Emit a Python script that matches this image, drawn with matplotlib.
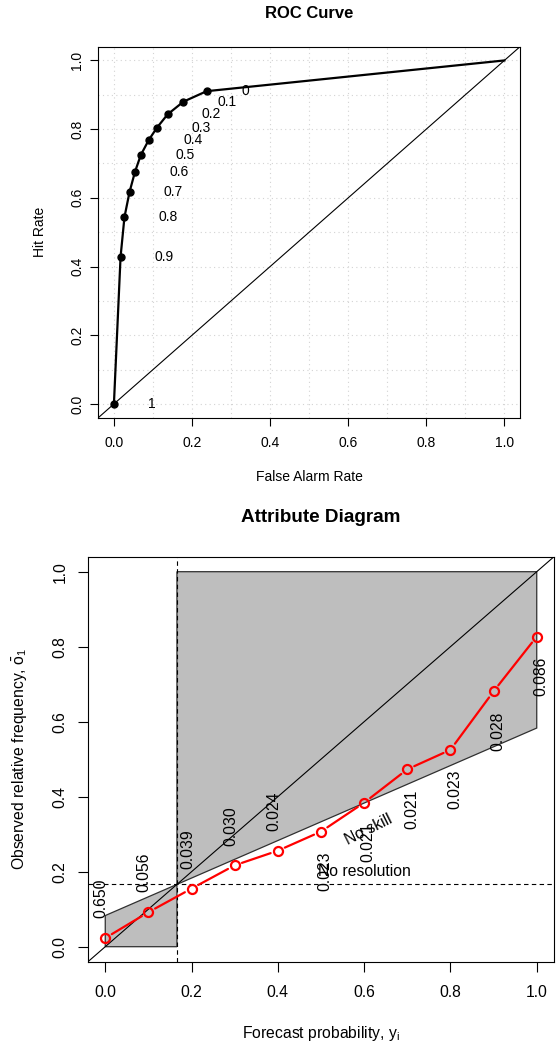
import numpy as np
import matplotlib
matplotlib.use('Agg')
import matplotlib.pyplot as plt

plt.rcParams['font.family'] = ['Liberation Sans', 'DejaVu Sans']
plt.rcParams['mathtext.fontset'] = 'custom'
plt.rcParams['mathtext.rm'] = 'Liberation Sans'
plt.rcParams['mathtext.it'] = 'Liberation Sans:italic'

# ROC curve: one point per probability threshold
thresholds = ['0', '0.1', '0.2', '0.3', '0.4', '0.5', '0.6', '0.7', '0.8', '0.9', '1']
false_alarm = [0.2375, 0.178, 0.1375, 0.110, 0.089, 0.069, 0.054, 0.040, 0.027, 0.017, 0.0]
hit_rate = [0.9105, 0.880, 0.843, 0.804, 0.768, 0.725, 0.676, 0.617, 0.544, 0.428, 0.0]

# attribute diagram: forecast bins, observed frequency, share of forecasts
forecast_prob = [0.0, 0.1, 0.2, 0.3, 0.4, 0.5, 0.6, 0.7, 0.8, 0.9, 1.0]
obs_freq = [0.023, 0.092, 0.155, 0.217, 0.256, 0.307, 0.384, 0.473, 0.525, 0.681, 0.827]
sample_frac = [0.650, 0.056, 0.039, 0.030, 0.024, 0.023, 0.021, 0.021, 0.023, 0.028, 0.086]

tick_vals = [0.0, 0.2, 0.4, 0.6, 0.8, 1.0]
tick_labels = ['0.0', '0.2', '0.4', '0.6', '0.8', '1.0']

W, H = 557, 1044
fig = plt.figure(figsize=(W / 100, H / 100), dpi=100)


def style_axes(ax, fs, ticklen, xpad, ypad):
    ax.set_xlim(-0.04, 1.04)
    ax.set_ylim(-0.04, 1.04)
    ax.set_xticks(tick_vals)
    ax.set_xticklabels(tick_labels)
    ax.set_yticks(tick_vals)
    ax.set_yticklabels(tick_labels, rotation=90, va='center')
    ax.tick_params(axis='both', direction='out', length=ticklen, width=0.8,
                   labelsize=fs, color='black')
    ax.tick_params(axis='x', pad=xpad)
    ax.tick_params(axis='y', pad=ypad)
    for s in ax.spines.values():
        s.set_color('black')
        s.set_linewidth(0.8)


# ---------------- ROC curve ----------------
ax1 = fig.add_axes([98.3 / W, 1 - 417.7 / H, 421.7 / W, 371 / H])
style_axes(ax1, 10, 6, 7, 4)

for v in np.arange(0, 1.01, 0.1):
    ax1.axvline(v, color='#D3D3D3', lw=0.8, ls=(0, (1, 3)), zorder=0)
    ax1.axhline(v, color='#D3D3D3', lw=0.8, ls=(0, (1, 3)), zorder=0)

ax1.axline((0, 0), (1, 1), color='black', lw=0.8)
# curve runs from (1,1) through the thresholds down to (0,0)
ax1.plot([1.0] + false_alarm, [1.0] + hit_rate, color='black', lw=1.6, zorder=3)
ax1.plot(false_alarm, hit_rate, 'o', color='black', ms=5, zorder=4)
for f, h, t in zip(false_alarm, hit_rate, thresholds):
    ax1.text(f + 0.088, h, t, ha='left', va='center', fontsize=10)

ax1.set_title('ROC Curve', fontsize=12, fontweight='bold',
              y=1 + 32.7 / 371, va='center', pad=0)
ax1.set_xlabel('False Alarm Rate', fontsize=10)
ax1.xaxis.set_label_coords(0.5, -59 / 371)
ax1.xaxis.label.set_va('center')
ax1.set_ylabel('Hit Rate', fontsize=10)
ax1.yaxis.set_label_coords(-58.3 / 421.7, 0.5)
ax1.yaxis.label.set_va('center')

# ---------------- Attribute diagram ----------------
ax2 = fig.add_axes([88 / W, 1 - 961.7 / H, 466 / W, 405 / H])
style_axes(ax2, 11.3, 7, 10, 7.5)

obar = float(np.dot(sample_frac, obs_freq))  # climatological frequency
a = (1 - obar) / 2 + obar
b = obar / 2
xp = [obar, obar, 1, 1, 0, 0, obar]
yp = [0, 1, 1, a, b, 0, 0]
ax2.fill(xp, yp, facecolor='#BEBEBE', edgecolor='#303030', lw=0.9, zorder=1)
ax2.axline((0, 0), (1, 1), color='black', lw=0.8, zorder=2)
ax2.axvline(obar, color='black', lw=0.8, ls=(0, (4, 3)), zorder=2)
ax2.axhline(obar, color='black', lw=0.8, ls=(0, (4, 3)), zorder=2)

ax2.text(0.6, obar + 0.035, 'No resolution', ha='center', va='center', fontsize=11.3)
ax2.annotate('No skill', xy=(0.6, obar + (a - b) * (0.6 - obar)), xytext=(3, -19),
             textcoords='offset points', ha='center', va='center',
             rotation=np.degrees(np.arctan(a - b)), fontsize=11.3)

# red reliability curve, segments with gaps round the markers
for i in range(len(forecast_prob) - 1):
    ax2.annotate('', xy=(forecast_prob[i + 1], obs_freq[i + 1]),
                 xytext=(forecast_prob[i], obs_freq[i]),
                 arrowprops=dict(arrowstyle='-', color='red', lw=1.6,
                                 shrinkA=5.5, shrinkB=5.5), zorder=4)
ax2.plot(forecast_prob, obs_freq, 'o', mfc='none', mec='red', mew=1.6, ms=6.5, zorder=5)

for x, y, s in zip(forecast_prob, obs_freq, sample_frac):
    if x < 0.5:
        off = (-3, 28.5)
    else:
        off = (3, -28.5)
    ax2.annotate('%.3f' % s, xy=(x, y), xytext=off, textcoords='offset points',
                 rotation=90, ha='center', va='center', fontsize=11.3, zorder=6)

ax2.set_title('Attribute Diagram', fontsize=13.6, fontweight='bold',
              y=1 + 39.4 / 405, va='center', pad=0)
ax2.set_xlabel(r'Forecast probability, $\mathrm{y}_\mathrm{i}$', fontsize=11.3)
ax2.xaxis.set_label_coords(0.5, -71.6 / 405)
ax2.xaxis.label.set_va('center')
ax2.set_ylabel(r'Observed relative frequency, $\bar{\mathrm{o}}_1$', fontsize=11.3)
ax2.yaxis.set_label_coords(-68 / 466, 0.5)
ax2.yaxis.label.set_va('center')

fig.savefig('out.png', dpi=100)
